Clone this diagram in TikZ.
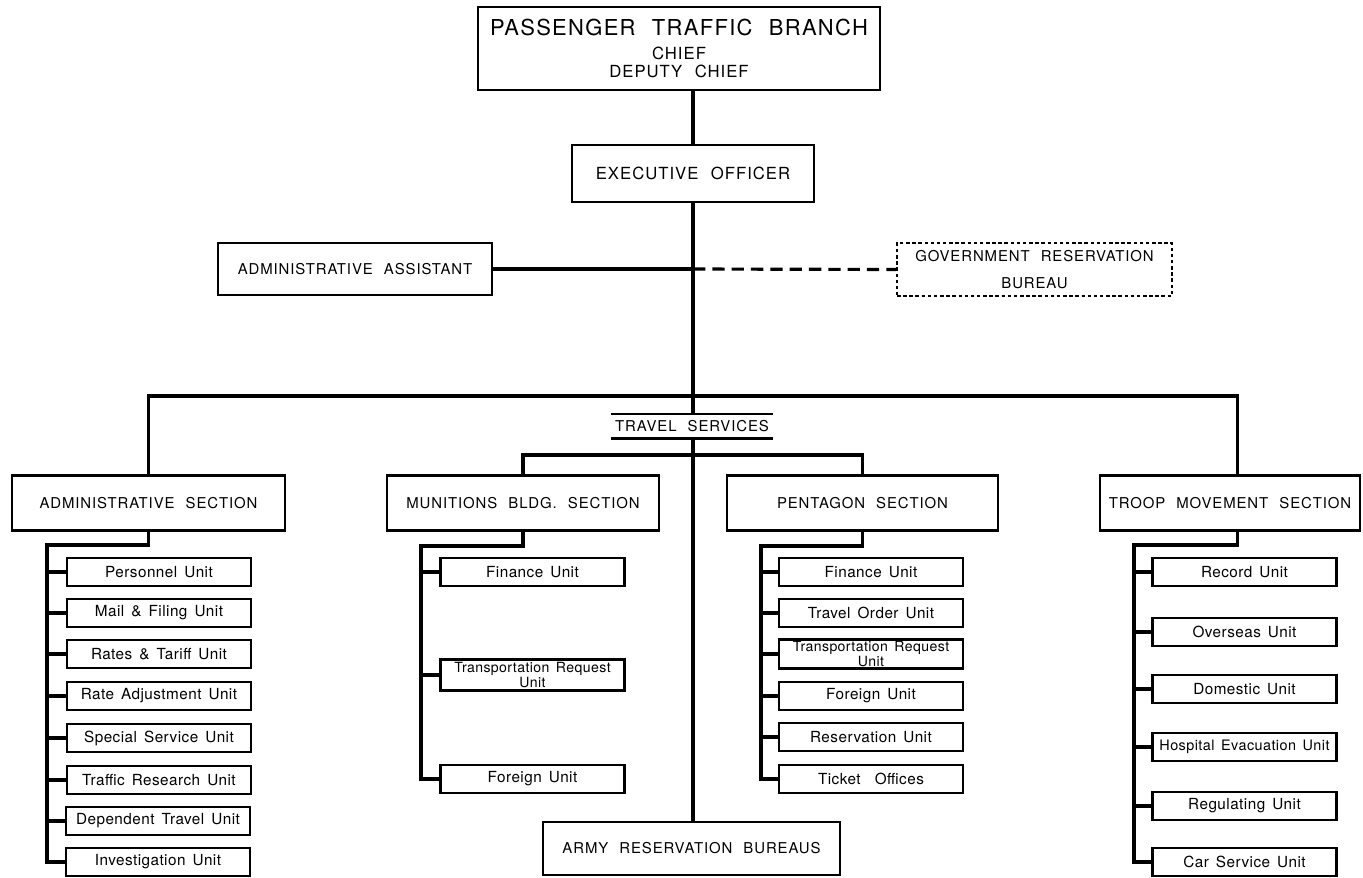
\documentclass[tikz,border=0pt]{standalone}
\usepackage{fontspec}
\setmainfont{TeX Gyre Heros}
\newfontfamily\capsfont{TeX Gyre Heros}[LetterSpace=6,WordSpace=2.2]
\newfontfamily\unitfont{TeX Gyre Heros}[LetterSpace=3,WordSpace=1.5]

\begin{document}
\begin{tikzpicture}[x=0.02cm,y=-0.02cm,
	orgbox/.style={draw,line width=1.25pt,inner sep=0pt,align=center,font=\capsfont\fontsize{8.5}{10}\selectfont},
	unitbox/.style={draw,line width=1.25pt,inner sep=0pt,minimum width=3.68cm,minimum height=0.56cm,align=center,font=\unitfont\fontsize{8.7}{8}\selectfont},
	link/.style={line width=1.8pt}]
	\useasboundingbox (0,0) rectangle (1363,877);

	%TOP BOXES
	\node[orgbox,minimum width=8.04cm,minimum height=1.66cm,font=\capsfont\fontsize{9.5}{10.5}\selectfont] (ptb) at (679,48.5)
		{{\fontsize{12.5}{15}\selectfont PASSENGER TRAFFIC BRANCH}\\[3pt]CHIEF\\DEPUTY CHIEF};
	\node[orgbox,minimum width=4.84cm,minimum height=1.14cm,font=\capsfont\fontsize{9.5}{10}\selectfont] (exo) at (693,173.5) {EXECUTIVE OFFICER};
	\node[orgbox,minimum width=5.48cm,minimum height=1.04cm] (adas) at (355,269) {ADMINISTRATIVE ASSISTANT};
	\node[orgbox,line width=0.9pt,dash pattern=on 2pt off 1.5pt,minimum width=5.5cm,minimum height=1.06cm] (grb) at (1034.5,269.5)
		{GOVERNMENT RESERVATION\\[5pt]BUREAU};

	%SECTIONS
	\node[orgbox,minimum width=5.46cm,minimum height=1.1cm] (admsec) at (148.5,503) {ADMINISTRATIVE SECTION};
	\node[orgbox,minimum width=5.44cm,minimum height=1.1cm] (munsec) at (523,503) {MUNITIONS BLDG. SECTION};
	\node[orgbox,minimum width=5.42cm,minimum height=1.1cm] (pensec) at (862.5,503) {PENTAGON SECTION};
	\node[orgbox,minimum width=5.2cm,minimum height=1.1cm] (trpsec) at (1230,503) {TROOP MOVEMENT SECTION};
	\node[orgbox,minimum width=5.94cm,minimum height=1.06cm] (army) at (691.5,848.5) {ARMY RESERVATION BUREAUS};

	%ADMINISTRATIVE UNITS
	\node[unitbox] (au1) at (159,572) {Personnel Unit};
	\node[unitbox] (au2) at (159,613) {Mail \& Filing Unit};
	\node[unitbox] (au3) at (159,654) {Rates \& Tariff Unit};
	\node[unitbox] (au4) at (159,696) {Rate Adjustment Unit};
	\node[unitbox] (au5) at (159,738) {Special Service Unit};
	\node[unitbox] (au6) at (159,780) {Traffic Research Unit};
	\node[unitbox] (au7) at (158,821) {Dependent Travel Unit};
	\node[unitbox] (au8) at (158,862) {Investigation Unit};

	%MUNITIONS UNITS
	\node[unitbox] (mu1) at (532.5,572) {Finance Unit};
	\node[unitbox,minimum height=0.62cm,font=\unitfont\fontsize{8}{8.2}\selectfont] (mu2) at (532.5,675) {Transportation Request\\Unit};
	\node[unitbox] (mu3) at (532.5,779) {Foreign Unit};

	%PENTAGON UNITS
	\node[unitbox] (pu1) at (871,572) {Finance Unit};
	\node[unitbox] (pu2) at (871,613) {Travel Order Unit};
	\node[unitbox,minimum height=0.58cm,font=\unitfont\fontsize{8}{8.2}\selectfont] (pu3) at (871,654) {Transportation Request\\Unit};
	\node[unitbox] (pu4) at (871,696) {Foreign Unit};
	\node[unitbox] (pu5) at (871,737) {Reservation Unit};
	\node[unitbox] (pu6) at (871,779) {Ticket \ Offices};

	%TROOP MOVEMENT UNITS
	\node[unitbox] (tu1) at (1244.5,572) {Record Unit};
	\node[unitbox] (tu2) at (1244.5,632) {Overseas Unit};
	\node[unitbox] (tu3) at (1244.5,689) {Domestic Unit};
	\node[unitbox,font=\unitfont\fontsize{8.2}{8}\selectfont] (tu4) at (1244.5,747) {Hospital Evacuation Unit};
	\node[unitbox] (tu5) at (1244.5,806) {Regulating Unit};
	\node[unitbox] (tu6) at (1244.5,862) {Car Service Unit};

	%JUNCTIONS
	\coordinate (bar) at (693,396);			%main bar
	\coordinate (bar2) at (693,455);		%travel services bar
	\coordinate (adspine) at (47,545);
	\coordinate (munspine) at (421,546);
	\coordinate (penspine) at (761,546);
	\coordinate (trpspine) at (1134,545);

	%MAIN LINES
	\draw[link] (exo.north |- ptb.south) -- (exo.north);
	\draw[link] (exo.south) -- (exo.south |- army.north);
	\draw[link] (adas.east) -- (adas.east -| exo.south);
	\draw[link,dash pattern=on 7pt off 4pt] (adas.east -| exo.south) -- (grb.west);
	\draw[link] (admsec.north) |- (bar) -| ([xshift=4.5pt]trpsec.north);
	\draw[link] (munsec.north) |- (bar2) -| (pensec.north);

	%TRAVEL SERVICES
	\node[orgbox,draw=none,fill=white,minimum width=3.2cm,minimum height=0.44cm] (ts) at (692,426) {TRAVEL SERVICES};
	\draw[line width=1.25pt] (ts.north west) -- (ts.north east);
	\draw[line width=1.8pt] (ts.south west) -- (ts.south east);

	%SPINES
	\draw[link] (admsec.south) |- (adspine) |- (au8.west);
	\draw[link] (adspine) |- (au1.west);
	\draw[link] (adspine) |- (au2.west);
	\draw[link] (adspine) |- (au3.west);
	\draw[link] (adspine) |- (au4.west);
	\draw[link] (adspine) |- (au5.west);
	\draw[link] (adspine) |- (au6.west);
	\draw[link] (adspine) |- (au7.west);
	%
	\draw[link] (munsec.south) |- (munspine) |- (mu3.west);
	\draw[link] (munspine) |- (mu1.west);
	\draw[link] (munspine) |- (mu2.west);
	%
	\draw[link] (pensec.south) |- (penspine) |- (pu6.west);
	\draw[link] (penspine) |- (pu1.west);
	\draw[link] (penspine) |- (pu2.west);
	\draw[link] (penspine) |- (pu3.west);
	\draw[link] (penspine) |- (pu4.west);
	\draw[link] (penspine) |- (pu5.west);
	%
	\draw[link] ([xshift=4.5pt]trpsec.south) |- (trpspine) |- (tu6.west);
	\draw[link] (trpspine) |- (tu1.west);
	\draw[link] (trpspine) |- (tu2.west);
	\draw[link] (trpspine) |- (tu3.west);
	\draw[link] (trpspine) |- (tu4.west);
	\draw[link] (trpspine) |- (tu5.west);
\end{tikzpicture}
\end{document}
